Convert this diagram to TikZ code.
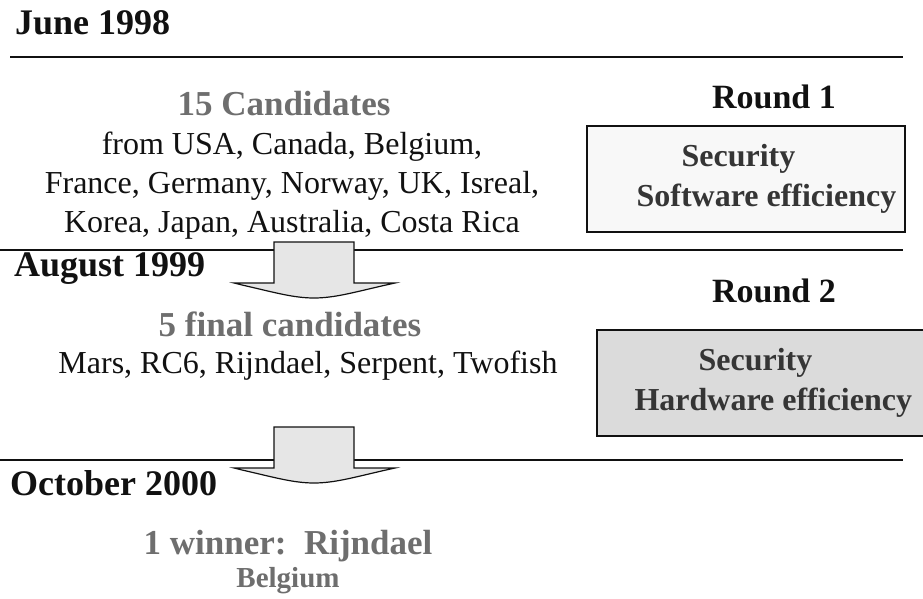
\documentclass[tikz,border=0pt]{standalone}
\usepackage{fontspec}
\setmainfont{Liberation Serif}
\usetikzlibrary{positioning}
\definecolor{Ink}{HTML}{111111}
\definecolor{Dim}{HTML}{6E6E6E}
\definecolor{PaleBox}{HTML}{F8F8F8}
\definecolor{GreyBox}{HTML}{DBDBDB}
\definecolor{ArrowFill}{HTML}{E6E6E6}
\tikzset{
  date/.style={anchor=west, inner sep=0pt, font=\fontsize{36}{38}\selectfont\bfseries, text=Ink},
  round/.style={inner sep=0pt, font=\fontsize{34}{38}\selectfont\bfseries, text=Ink},
  headline/.style={inner sep=0pt, font=\fontsize{35}{38}\selectfont\bfseries, text=Dim},
  body/.style={inner sep=0pt, align=center, font=\fontsize{32}{39}\selectfont, text=Ink},
  critbox/.style={draw=Ink, line width=1.3pt, minimum width=318pt, minimum height=106pt},
  crittext/.style={anchor=west, inner sep=0pt, align=left,
    font=\fontsize{32}{40}\selectfont\bfseries, text=Ink!85},
  rule/.style={draw=Ink, line width=1.4pt},
  blockarrow/.style={draw=Ink, line width=1.2pt, fill=ArrowFill, line join=miter}
}
\begin{document}
\begin{tikzpicture}[x=1pt,y=-1pt]
  \useasboundingbox (0,0) rectangle (923,599);
  % timeline rules
  \draw[rule] (10,57) -- (903,57);
  \draw[rule] (0,250) -- (903,250);
  \draw[rule] (0,460) -- (903,460);
  % dates
  \node[date] (june) at (15,23) {June 1998};
  \node[date] (aug) at (14,269) {August 1999};
  \node[date] (oct) at (10,483) {October 2000};
  % round 1
  \node[headline] (cand) at (284,104) {15 Candidates};
  \node[body] (nations) at (292,186) {from USA, Canada, Belgium,\\
    France, Germany, Norway, UK, Isreal,\\ Korea, Japan, Australia, Costa Rica};
  \node[round] (r1) at (774,97) {Round 1};
  \node[critbox,fill=PaleBox] (crit1) at (746,179) {};
  \node[crittext] (crit1txt) at ([xshift=50pt]crit1.west) {\hspace*{45pt}Security\\Software efficiency};
  % round 2
  \node[headline] (final) at (290,324) {5 final candidates};
  \node[body] (five) at (308,366) {Mars, RC6, Rijndael, Serpent, Twofish};
  \node[round] (r2) at (774,291) {Round 2};
  \node[critbox,fill=GreyBox,minimum width=330pt] (crit2) at (762,383) {};
  \node[crittext] (crit2txt) at ([xshift=38pt]crit2.west) {\hspace*{64pt}Security\\Hardware efficiency};
  % outcome
  \node[headline] (win) at (288,546) {1 winner:~~Rijndael};
  \node[headline,font=\fontsize{29}{32}\selectfont\bfseries] (bel) at (288,581) {Belgium};
  % block arrows between rounds
  \foreach \ty in {242,427}{
    \draw[blockarrow] (274,\ty) -- (354,\ty) -- (354,\ty+41) -- (395,\ty+41)
      -- (386,\ty+43) .. controls (355,\ty+50) and (335,\ty+56) .. (314,\ty+56)
      .. controls (293,\ty+56) and (273,\ty+50) .. (242,\ty+43)
      -- (234,\ty+41) -- (274,\ty+41) -- cycle;
  }
\end{tikzpicture}
\end{document}
